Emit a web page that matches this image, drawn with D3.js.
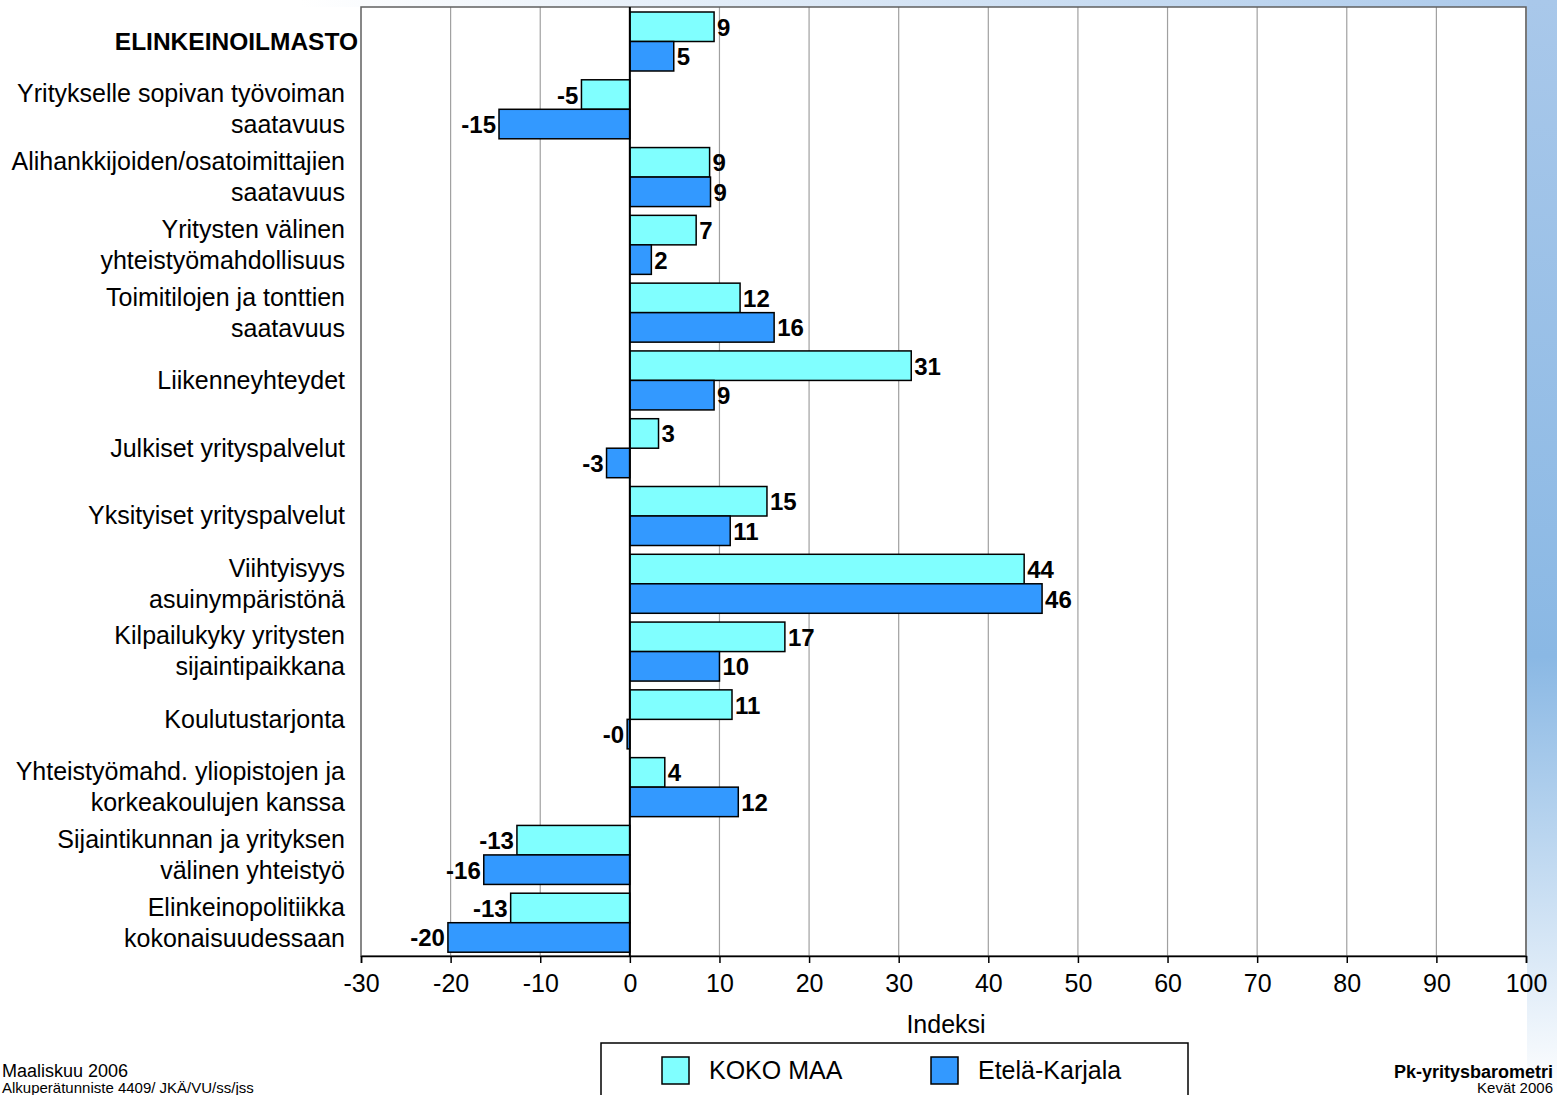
<!DOCTYPE html>
<html><head><meta charset="utf-8">
<script src="https://cdn.jsdelivr.net/npm/d3@7"></script>
<style>body{margin:0;background:#fff}svg{display:block;font-family:"Liberation Sans",Arial,sans-serif}</style>
</head><body><svg id="c" width="1557" height="1095"></svg>
<script>
const categories = [
 ["ELINKEINOILMASTO"],
 ["Yritykselle sopivan työvoiman","saatavuus"],
 ["Alihankkijoiden/osatoimittajien","saatavuus"],
 ["Yritysten välinen","yhteistyömahdollisuus"],
 ["Toimitilojen ja tonttien","saatavuus"],
 ["Liikenneyhteydet"],
 ["Julkiset yrityspalvelut"],
 ["Yksityiset yrityspalvelut"],
 ["Viihtyisyys","asuinympäristönä"],
 ["Kilpailukyky yritysten","sijaintipaikkana"],
 ["Koulutustarjonta"],
 ["Yhteistyömahd. yliopistojen ja","korkeakoulujen kanssa"],
 ["Sijaintikunnan ja yrityksen","välinen yhteistyö"],
 ["Elinkeinopolitiikka","kokonaisuudessaan"]
];
const kokoMaa = [9.4, -5.4, 8.9, 7.4, 12.3, 31.4, 3.2, 15.3, 44, 17.3, 11.4, 3.9, -12.6, -13.3];
const etelaKarjala = [4.9, -14.6, 9.0, 2.4, 16.1, 9.4, -2.6, 11.2, 46, 10, -0.3, 12.1, -16.3, -20.3];
const xTicks = [-30,-20,-10,0,10,20,30,40,50,60,70,80,90,100];
const seriesNames = ["KOKO MAA","Etelä-Karjala"];
const colors = ["#80ffff","#3399ff"];

const svg = d3.select("#c");
const defs = svg.append("defs");
const g1 = defs.append("linearGradient").attr("id","gr").attr("x1",0).attr("y1",0).attr("x2",0).attr("y2",1);
g1.append("stop").attr("offset","0").attr("stop-color","#a9c8ea");
g1.append("stop").attr("offset","0.6").attr("stop-color","#8ab8e4");
g1.append("stop").attr("offset","1").attr("stop-color","#ffffff");
const g2 = defs.append("linearGradient").attr("id","gt").attr("x1",0).attr("y1",0).attr("x2",1).attr("y2",0);
g2.append("stop").attr("offset","0").attr("stop-color","#ffffff");
g2.append("stop").attr("offset","1").attr("stop-color","#a9c8ea");
svg.append("rect").attr("x",300).attr("y",0).attr("width",1257).attr("height",7).attr("fill","url(#gt)");
svg.append("rect").attr("x",1527).attr("y",0).attr("width",30).attr("height",1095).attr("fill","url(#gr)");

const L=361,R=1526,T=7,B=956;
const x = d3.scaleLinear().domain([-30,100]).range([L,R]);
const y = d3.scaleBand().domain(d3.range(categories.length)).range([T,B]);
svg.append("rect").attr("x",L).attr("y",T).attr("width",R-L).attr("height",B-T).attr("fill","#fff");
svg.append("g").selectAll("line").data(xTicks.slice(1)).join("line")
 .attr("x1",d=>x(d)).attr("x2",d=>x(d)).attr("y1",T).attr("y2",B).attr("stroke","#a0a0a0").attr("stroke-width",1.2);
svg.append("rect").attr("x",L).attr("y",T).attr("width",R-L).attr("height",B-T).attr("fill","none").attr("stroke","#606060").attr("stroke-width",1.5);

const bh=29.5;
[kokoMaa,etelaKarjala].forEach((vals,si)=>{
  const gg=svg.append("g");
  vals.forEach((v,i)=>{
    const yy=y(i)+5+si*bh;
    gg.append("rect").attr("x",x(Math.min(0,v))).attr("y",yy).attr("width",Math.abs(x(v)-x(0))).attr("height",bh)
      .attr("fill",colors[si]).attr("stroke","#000").attr("stroke-width",1.5);
    const lab=v.toFixed(0);
    gg.append("text").attr("x",v>=0?x(v)+3:x(v)-3).attr("y",yy+bh/2+9)
      .attr("text-anchor",v>=0?"start":"end").attr("font-size",24).attr("font-weight","bold").text(lab);
  });
});
svg.append("line").attr("x1",x(0)).attr("x2",x(0)).attr("y1",T).attr("y2",B).attr("stroke","#000").attr("stroke-width",2);

categories.forEach((c,i)=>{
  const cy=y(i)+y.bandwidth()/2;
  const xx=i===0?358:345;
  const t=svg.append("text").attr("text-anchor","end").attr("font-size",25);
  if(i===0) t.attr("font-weight","bold").attr("font-size",24.5);
  c.forEach((s,j)=>t.append("tspan").attr("x",xx).attr("y",cy+9+(j-(c.length-1)/2)*31).text(s));
});

const ax=svg.append("g").attr("transform",`translate(0,${B})`).call(d3.axisBottom(x).tickValues(xTicks).tickSize(7).tickPadding(11).tickFormat(d=>String(d)));
ax.select(".domain").attr("stroke","#000").attr("stroke-width",1.5);
ax.selectAll("line").attr("stroke","#000").attr("stroke-width",1.5);
ax.selectAll("text").attr("font-size",25).attr("font-family","'Liberation Sans',Arial,sans-serif");
svg.append("text").attr("x",946).attr("y",1033).attr("text-anchor","middle").attr("font-size",25).text("Indeksi");

svg.append("rect").attr("x",601).attr("y",1043).attr("width",587).attr("height",60).attr("fill","#fff").attr("stroke","#000").attr("stroke-width",1.5);
const lx=[662,931];
seriesNames.forEach((n,i)=>{
  svg.append("rect").attr("x",lx[i]).attr("y",1057).attr("width",27).attr("height",27).attr("fill",colors[i]).attr("stroke","#000").attr("stroke-width",1.5);
  svg.append("text").attr("x",lx[i]+47).attr("y",1079).attr("font-size",25).text(n);
});
svg.append("text").attr("x",2).attr("y",1077).attr("font-size",18).text("Maaliskuu 2006");
svg.append("text").attr("x",2).attr("y",1093).attr("font-size",15).text("Alkuperätunniste 4409/ JKÄ/VU/ss/jss");
svg.append("text").attr("x",1553).attr("y",1078).attr("text-anchor","end").attr("font-size",18).attr("font-weight","bold").text("Pk-yritysbarometri");
svg.append("text").attr("x",1553).attr("y",1093).attr("text-anchor","end").attr("font-size",15).text("Kevät 2006");
</script></body></html>
